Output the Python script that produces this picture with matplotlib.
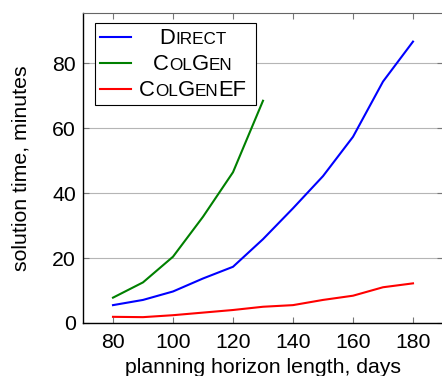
import matplotlib
matplotlib.use('Agg')
import matplotlib.pyplot as plt
from matplotlib.offsetbox import TextArea, HPacker, VPacker, DrawingArea, AnchoredOffsetbox
from matplotlib.lines import Line2D

# ---- data ----
days = [80, 90, 100, 110, 120, 130, 140, 150, 160, 170, 180]
direct = [5.5, 7.1, 9.7, 13.7, 17.3, 25.8, 35.3, 45.2, 57.3, 74.3, 86.6]
colgen_days = [80, 90, 100, 110, 120, 130]
colgen = [7.8, 12.5, 20.4, 32.7, 46.4, 68.4]
colgenef = [1.9, 1.8, 2.4, 3.2, 4.0, 5.0, 5.5, 7.1, 8.4, 11.0, 12.2]
series_names = ["Direct", "ColGen", "ColGenEF"]
series_colors = ["#0000ff", "#008000", "#ff0000"]
xticks = [80, 100, 120, 140, 160, 180]
yticks = [0, 20, 40, 60, 80]
xlabel = "planning horizon length, days"
ylabel = "solution time, minutes"

plt.rcParams['font.family'] = ['Liberation Sans', 'DejaVu Sans']

W, H = 442, 376
fig = plt.figure(figsize=(W / 100, H / 100), dpi=100)
ax = fig.add_axes([83 / W, 53 / H, 360 / W, 310 / H])

series_x = [days, colgen_days, days]
series_y = [direct, colgen, colgenef]
for xs, ys, c in zip(series_x, series_y, series_colors):
    ax.plot(xs, ys, color=c, lw=1.5, solid_joinstyle='round')

FS = 15.3
ax.set_xlim(70, 190)
ax.set_ylim(0, 95.4)
ax.set_xticks(xticks)
ax.set_yticks(yticks)
ax.tick_params(direction='in', length=4, width=0.8, top=True, right=True,
               labelsize=FS, color='#777777', labelcolor='black')
ax.tick_params(axis='x', pad=7)
ax.tick_params(axis='y', pad=5)
ax.yaxis.grid(True, color='#b5b5b5', lw=0.8)
ax.set_axisbelow(True)
for s in ['left', 'bottom']:
    ax.spines[s].set_color('black')
    ax.spines[s].set_linewidth(1.0)
ax.spines['top'].set_color('#666666')
ax.spines['top'].set_linewidth(0.8)
ax.spines['right'].set_color('#666666')

ax.set_xlabel(xlabel, fontsize=FS, labelpad=4.5)
ax.set_ylabel(ylabel, fontsize=FS, labelpad=16)

# ---- legend with small caps labels ----
BIG, SMALL = 15.8, 12.3


def smallcaps(s):
    parts = []
    cur, cur_upper = '', None
    for ch in s:
        up = ch.isupper()
        if cur and up != cur_upper:
            parts.append((cur.upper(), BIG if cur_upper else SMALL))
            cur = ''
        cur += ch
        cur_upper = up
    if cur:
        parts.append((cur.upper(), BIG if cur_upper else SMALL))
    return parts


rows = []
for name in series_names:
    tas = [TextArea(t, textprops=dict(fontsize=sz, color='black')) for t, sz in smallcaps(name)]
    rows.append(HPacker(children=tas, pad=0, sep=0, align='baseline'))

LW = 22.5  # points
das, lines = [], []
for c in series_colors:
    da = DrawingArea(LW, 15, 0, 0)
    ln = Line2D([0, LW], [7, 7], color=c, lw=1.5)
    da.add_artist(ln)
    das.append(da)
    lines.append(ln)

SEP = 3.6
text_col = VPacker(children=rows, pad=0, sep=SEP, align='center')
line_col = VPacker(children=das, pad=0, sep=SEP, align='center')
spacer = DrawingArea(3.6, 1, 0, 0)
text_part = HPacker(children=[text_col, spacer], pad=0, sep=0, align='top')
box = HPacker(children=[line_col, text_part], pad=0, sep=6, align='top')
anch = AnchoredOffsetbox(loc='upper left', child=box, pad=0.33, borderpad=0,
                         frameon=True, bbox_to_anchor=((95 - 83) / 360, (323 - 23) / 310),
                         bbox_transform=ax.transAxes)
anch.patch.set_boxstyle('square', pad=0)
anch.patch.set_edgecolor('black')
anch.patch.set_linewidth(0.8)
ax.add_artist(anch)

fig.canvas.draw()
r = fig.canvas.get_renderer()
p2p = r.points_to_pixels(1.0)
bb = rows[0].get_bbox(r)
h_pt = bb.height / p2p
desc_pt = -bb.y0 / p2p
for da, ln in zip(das, lines):
    da.height = h_pt
    y = desc_pt + 0.42 * 0.716 * BIG
    ln.set_ydata([y, y])

fig.savefig('out.png', dpi=100)
